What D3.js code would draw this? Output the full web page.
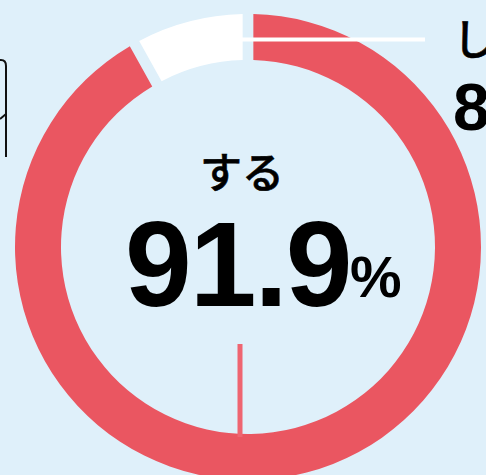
<!DOCTYPE html>
<html>
<head>
<meta charset="utf-8">
<script src="https://cdn.jsdelivr.net/npm/d3@7"></script>
<style>
  html, body { margin: 0; padding: 0; background: #dff0fa; overflow: hidden; }
  svg { display: block; }
</style>
</head>
<body>
<script>
var categories = ["する", "しない"],
    values = [91.9, 8.1],
    colors = ["#ea5661", "#ffffff"];

var W = 486, H = 475,
    cx = 248, cy = 247,
    rOut = 233, rIn = 187;

var svg = d3.select("body").append("svg")
    .attr("width", W)
    .attr("height", H);

svg.append("rect").attr("width", W).attr("height", H).attr("fill", "#dff0fa");

// partial frame at the left edge
svg.append("path")
    .attr("d", "M-4,60 L1,60 Q6,60 6,66 L6,157 M0,119 L6,114")
    .attr("fill", "none")
    .attr("stroke", "#111")
    .attr("stroke-width", 2);

var pie = d3.pie().sort(null).value(function(d) { return d; });
var arc = d3.arc().innerRadius(rIn).outerRadius(rOut).padRadius(rOut).padAngle(0.046);

var g = svg.append("g").attr("transform", "translate(" + cx + "," + cy + ")");

g.selectAll("path.slice")
    .data(pie(values))
  .enter().append("path")
    .attr("class", "slice")
    .attr("d", arc)
    .attr("fill", function(d, i) { return colors[i]; });

// leader lines
svg.append("line")
    .attr("x1", 240).attr("x2", 425)
    .attr("y1", 39.5).attr("y2", 39.5)
    .attr("stroke", "#fff").attr("stroke-width", 4);

svg.append("line")
    .attr("x1", 240).attr("x2", 240)
    .attr("y1", 344).attr("y2", 437)
    .attr("stroke", "#ef6571").attr("stroke-width", 5);

// center label
svg.append("text")
    .attr("x", 242).attr("y", 188)
    .attr("text-anchor", "middle")
    .style("font-family", "'Noto Sans CJK JP'")
    .style("font-weight", 500)
    .style("font-size", "42px")
    .style("stroke", "#000")
    .style("stroke-width", 0.6)
    .attr("fill", "#000")
    .text(categories[0]);

svg.append("text")
    .attr("x", 125).attr("y", 306)
    .style("font-family", "'Liberation Sans', Arial, sans-serif")
    .style("font-weight", 700)
    .style("font-size", "120px")
    .style("letter-spacing", "-2px")
    .attr("fill", "#000")
    .text(values[0].toFixed(1));

svg.append("text")
    .attr("x", 350).attr("y", 297)
    .style("font-family", "'Liberation Sans', Arial, sans-serif")
    .style("font-weight", 700)
    .style("font-size", "58px")
    .attr("fill", "#000")
    .text("%");

// outer label (cut off at the right edge)
svg.append("text")
    .attr("x", 453).attr("y", 55)
    .style("font-family", "'Noto Sans CJK JP'")
    .style("font-weight", 500)
    .style("font-size", "42px")
    .style("stroke", "#000")
    .style("stroke-width", 0.6)
    .attr("fill", "#000")
    .text(categories[1]);

svg.append("text")
    .attr("x", 453).attr("y", 130)
    .style("font-family", "'Liberation Sans', Arial, sans-serif")
    .style("font-weight", 700)
    .style("font-size", "66px")
    .attr("fill", "#000")
    .text(values[1].toFixed(1) + "%");
</script>
</body>
</html>
